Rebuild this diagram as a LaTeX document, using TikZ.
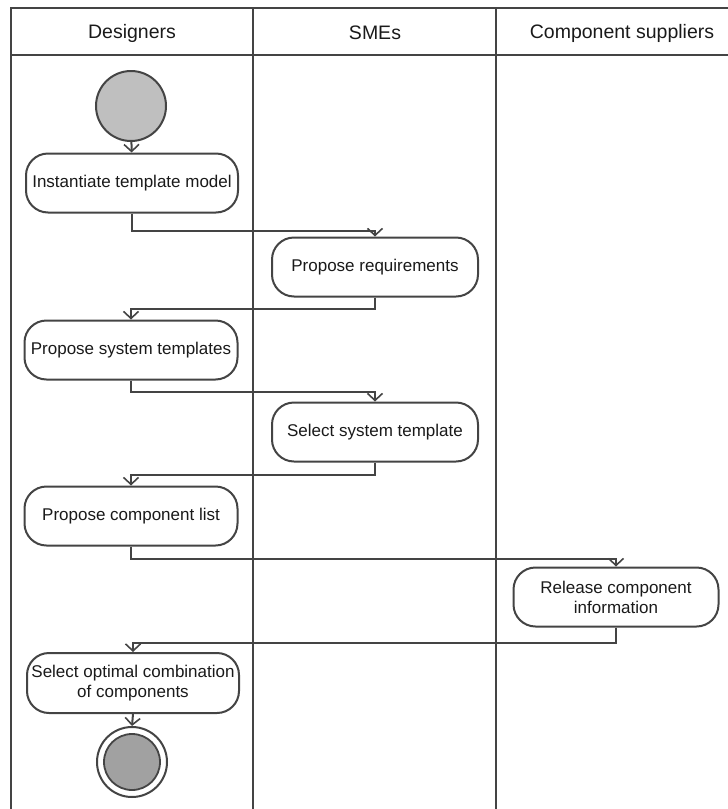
\documentclass[tikz,border=0pt]{standalone}
\usepackage{fontspec}
\setmainfont{Liberation Sans}
\usetikzlibrary{arrows.meta}
\definecolor{ln}{HTML}{444444}
\definecolor{tx}{HTML}{1A1A1A}
\tikzset{
  act/.style={draw=ln, line width=2pt, rounded corners=22pt, fill=white, text=tx,
    align=center, inner sep=2pt, font=\fontsize{17}{20}\selectfont, minimum height=59pt},
  lane/.style={draw=ln, line width=2.2pt},
  flow/.style={draw=ln, line width=2pt, -{Straight Barb[length=7pt,width=15pt,line width=1.6pt]}},
  hdr/.style={text=tx, font=\fontsize{19.5}{22}\selectfont}
}
\begin{document}
\begin{tikzpicture}[x=1pt,y=-1pt]
\useasboundingbox (0,0) rectangle (728,809);
% swimlane frame
\draw[lane] (728,8) -- (11,8) -- (11,809);
\draw[lane] (11,55) -- (728,55);
\draw[lane] (253,8) -- (253,809);
\draw[lane] (496,8) -- (496,809);
\node[hdr] (h1) at (132,33) {Designers};
\node[hdr] (h2) at (375,33) {SMEs};
\node[hdr] (h3) at (622,33) {Component suppliers};
% nodes
\node[circle, draw=ln, line width=2pt, fill=black!25, minimum size=70pt, inner sep=0pt] (start) at (131,106) {};
\node[act, minimum width=212pt] (n1) at (132,183) {Instantiate template model};
\node[act, minimum width=206pt] (n2) at (375,267) {Propose requirements};
\node[act, minimum width=213pt] (n3) at (131,350) {Propose system templates};
\node[act, minimum width=206pt] (n4) at (375,432) {Select system template};
\node[act, minimum width=213pt] (n5) at (131,516) {Propose component list};
\node[act, minimum width=205pt] (n6) at (616,597) {Release component\\information};
\node[act, minimum width=212pt, minimum height=60pt] (n7) at (133,683) {Select optimal combination\\of components};
\node[circle, draw=ln, line width=2pt, fill=white, minimum size=70pt, inner sep=0pt] (end) at (132,762) {};
\node[circle, draw=ln, line width=1.8pt, fill=black!37, minimum size=56pt, inner sep=0pt] (endin) at (end) {};
% flows
\draw[flow] (start) -- (n1);
\draw[flow] (n1.south) -- ++(0,17) -| (n2.north);
\draw[flow] (n2.south) -- ++(0,11) -| (n3.north);
\draw[flow] (n3.south) -- ++(0,11) -| (n4.north);
\draw[flow] (n4.south) -- ++(0,12) -| (n5.north);
\draw[flow] (n5.south) -- ++(0,12) -| (n6.north);
\draw[flow] (n6.south) -- ++(0,15) -| (n7.north);
\draw[flow] (n7.south) -- (end.north);
\end{tikzpicture}
\end{document}
